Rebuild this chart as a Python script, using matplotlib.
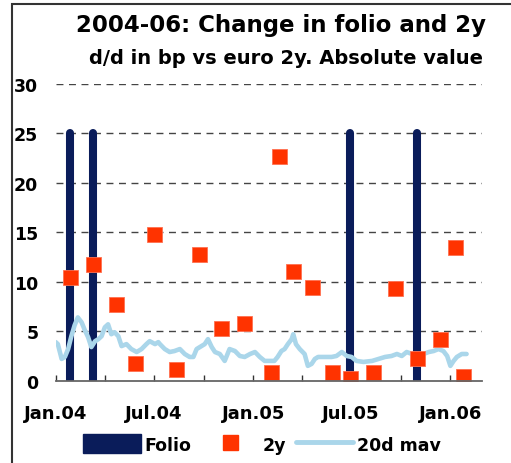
import matplotlib
matplotlib.use("Agg")
import matplotlib.pyplot as plt
import matplotlib.dates as mdates
from matplotlib.patches import Patch, Rectangle
from matplotlib.lines import Line2D
import numpy as np
import pandas as pd

plt.rcParams['font.family'] = ['DejaVu Sans']
plt.rcParams['font.weight'] = 'bold'

# Folio changes (bars)
folio_dates = ["2004-01-27", "2004-03-11", "2005-06-30", "2005-11-01"]
folio_values = [25, 25, 25, 25]

# 2y changes (squares)
y2_dates = ["2004-01-27", "2004-03-11", "2004-04-21", "2004-05-26", "2004-07-01",
            "2004-08-10", "2004-09-22", "2004-11-03", "2004-12-14", "2005-02-02",
            "2005-02-18", "2005-03-16", "2005-04-20", "2005-05-26", "2005-06-30",
            "2005-08-11", "2005-09-21", "2005-11-01", "2005-12-13", "2006-01-10",
            "2006-01-25"]
y2_values = [10.5, 11.8, 7.8, 1.8, 14.8, 1.2, 12.8, 5.3, 5.8, 0.85,
             22.7, 11.1, 9.5, 0.9, 0.25, 0.9, 9.4, 2.3, 4.2, 13.5, 0.5]

# 20d moving average
mav_dates = ["2004-01-01", "2004-01-05", "2004-01-12", "2004-01-18", "2004-01-24",
             "2004-01-30", "2004-02-05", "2004-02-11", "2004-02-18", "2004-02-24",
             "2004-03-01", "2004-03-07", "2004-03-14", "2004-03-20", "2004-03-26",
             "2004-04-01", "2004-04-07", "2004-04-13", "2004-04-19", "2004-04-26",
             "2004-05-02", "2004-05-11", "2004-05-20", "2004-05-30", "2004-06-08",
             "2004-06-17", "2004-06-23", "2004-07-03", "2004-07-09", "2004-07-12",
             "2004-07-21", "2004-07-30", "2004-08-08", "2004-08-18", "2004-08-27",
             "2004-09-05", "2004-09-12", "2004-09-18", "2004-09-27", "2004-10-03",
             "2004-10-09", "2004-10-16", "2004-10-22", "2004-10-31", "2004-11-09",
             "2004-11-18", "2004-11-28", "2004-12-07", "2004-12-16", "2004-12-26",
             "2005-01-04", "2005-01-13", "2005-01-22", "2005-01-31", "2005-02-09",
             "2005-02-15", "2005-02-22", "2005-02-28", "2005-03-06", "2005-03-13",
             "2005-03-16", "2005-03-21", "2005-03-28", "2005-04-06", "2005-04-12",
             "2005-04-19", "2005-04-25", "2005-05-01", "2005-05-07", "2005-05-17",
             "2005-05-26", "2005-06-04", "2005-06-14", "2005-06-23", "2005-07-02",
             "2005-07-11", "2005-07-24", "2005-08-09", "2005-08-21", "2005-09-02",
             "2005-09-14", "2005-09-24", "2005-10-03", "2005-10-12", "2005-10-22",
             "2005-10-31", "2005-11-12", "2005-11-22", "2005-12-01", "2005-12-10",
             "2005-12-19", "2005-12-26", "2006-01-01", "2006-01-07", "2006-01-13",
             "2006-01-22", "2006-01-31"]
mav_values = [3.9, 3.7, 2.2, 2.4, 3.2,
              4.5, 5.6, 6.4, 5.9, 5.1,
              4.4, 3.4, 4.0, 4.2, 4.5,
              5.4, 5.7, 4.7, 4.9, 4.5,
              3.5, 3.7, 3.2, 2.9, 3.2,
              3.7, 4.0, 3.7, 3.9, 3.7,
              3.2, 2.9, 3.0, 3.2, 2.7,
              2.4, 2.4, 3.2, 3.5, 3.7,
              4.2, 3.4, 2.9, 2.7, 2.0,
              3.2, 3.0, 2.5, 2.4, 2.7,
              2.9, 2.4, 2.0, 2.0, 2.0,
              2.4, 3.0, 3.2, 3.7, 4.2,
              4.7, 3.7, 3.2, 2.7, 1.5,
              1.7, 2.2, 2.4, 2.4, 2.4,
              2.4, 2.5, 2.9, 2.5, 2.4,
              2.0, 1.9, 2.0, 2.2, 2.4,
              2.5, 2.7, 2.5, 2.9, 2.7,
              2.7, 2.7, 2.9, 3.0, 3.2,
              3.0, 2.5, 1.5, 2.0, 2.4,
              2.7, 2.7]

y_ticks = [0, 5, 10, 15, 20, 25, 30]
x_start, x_end = "2004-01-01", "2006-02-28"
labelled_months = [1, 7]

NAVY = '#0A1C5A'
ORANGE = '#FF3300'
LBLUE = '#AAD6EA'

fig = plt.figure(figsize=(5.11, 4.64), dpi=100)
ax = fig.add_axes([55.7/511, 1-381.7/464, (481.7-55.7)/511, (381.7-85)/464])

fd = pd.to_datetime(folio_dates)
ax.vlines(fd, 0, folio_values, colors=NAVY, linewidth=5.8, capstyle='round', zorder=2)
ax.plot(pd.to_datetime(mav_dates), mav_values, color=LBLUE, linewidth=3.3,
        solid_joinstyle='round', solid_capstyle='round', zorder=3)
ax.plot(pd.to_datetime(y2_dates), y2_values, linestyle='none', marker='s',
        markersize=10.8, color=ORANGE, markeredgecolor='#FF7050', markeredgewidth=0.6, zorder=4)

ax.set_ylim(0, 30)
ax.set_xlim(pd.Timestamp(x_start), pd.Timestamp(x_end))
ax.set_yticks(y_ticks)
for v in y_ticks[1:]:
    ax.axhline(v, color='#444444', linewidth=1.0, dashes=(5, 4), zorder=1)

for s in ['left', 'right', 'top']:
    ax.spines[s].set_visible(False)
ax.spines['bottom'].set_color('#666666')
ax.spines['bottom'].set_linewidth(1.3)
ax.spines['bottom'].set_zorder(5)

ax.xaxis.set_major_locator(mdates.MonthLocator(bymonth=[1, 4, 7, 10]))
def fmt(x, pos):
    d = mdates.num2date(x)
    if d.month in labelled_months:
        return d.strftime('%b') + '.' + d.strftime('%y')
    return ''
ax.xaxis.set_major_formatter(plt.FuncFormatter(fmt))
ax.tick_params(axis='x', direction='in', length=4.5, width=1.0, color='#333333',
               pad=17, labelsize=13)
ax.tick_params(axis='y', length=0, pad=12.5, labelsize=12.5)
for lab in ax.get_xticklabels() + ax.get_yticklabels():
    lab.set_fontweight('bold')

fig.text(281/511, 1-31.7/464, "2004-06: Change in folio and 2y", ha='center', va='baseline',
         fontsize=16.5, fontweight='bold')
fig.text(286/511, 1-64.5/464, "d/d in bp vs euro 2y. Absolute value", ha='center', va='baseline',
         fontsize=14, fontweight='bold')

handles = [Patch(facecolor=NAVY, edgecolor=NAVY),
           Line2D([], [], linestyle='none', marker='s', markersize=10.8, color=ORANGE),
           Line2D([], [], color=LBLUE, linewidth=3.5, solid_capstyle='round')]
fig.legend(handles, ['Folio', '2y', '20d mav'], loc='center', bbox_to_anchor=(262/511, 1-445/464),
           ncol=3, frameon=False, prop={'weight': 'bold', 'size': 12.5},
           handlelength=3.3, handleheight=1.26, handletextpad=0.2, columnspacing=0.6)

fig.add_artist(Rectangle((12/511, -0.2), 1.5, 0.2 + 1-5/464, transform=fig.transFigure,
                         fill=False, edgecolor='#333333', linewidth=1.5))

fig.savefig('out.png', dpi=100)
